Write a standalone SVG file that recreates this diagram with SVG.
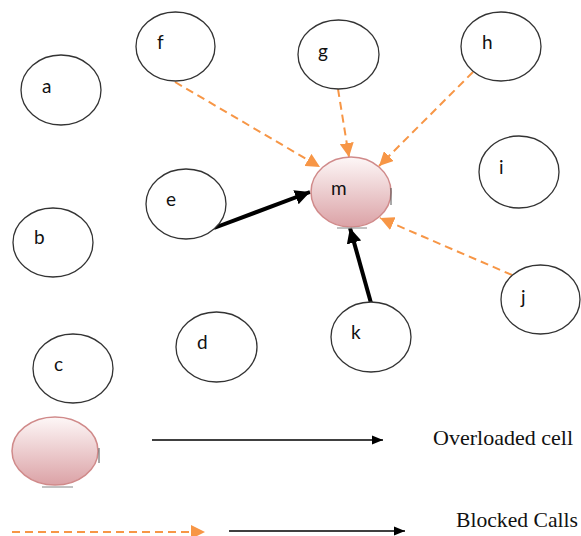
<svg xmlns="http://www.w3.org/2000/svg" width="581" height="536" viewBox="0 0 581 536">
<style>
.cell{fill:#fff;stroke:#333;stroke-width:1.3}
.hot{fill:url(#pink);stroke:#d08a8a;stroke-width:1.5}
.lbl{font-family:Lato,"Open Sans","Liberation Sans",sans-serif;font-size:19px;fill:#111}
.leg{font-family:"Liberation Serif",serif;font-size:22px;fill:#111}
.blk{stroke:#f79646;stroke-width:2;stroke-dasharray:8 5;fill:none}
.load{stroke:#000;stroke-width:4;fill:none}
.thin{stroke:#000;stroke-width:1.4;fill:none}
</style>
<defs>
<linearGradient id="pink" x1="0" y1="0" x2="0" y2="1">
<stop offset="0" stop-color="#fdf7f7"/>
<stop offset="1" stop-color="#dba2a6"/>
</linearGradient>
<marker id="ao" markerUnits="userSpaceOnUse" markerWidth="14" markerHeight="14" viewBox="0 0 12 12" refX="12" refY="6" orient="auto">
<path d="M0,0 L12,6 L0,12 Z" fill="#f79646"/>
</marker>
<marker id="ab" markerUnits="userSpaceOnUse" markerWidth="15" markerHeight="15" viewBox="0 0 12 12" refX="12" refY="6" orient="auto">
<path d="M0,0 L12,6 L0,12 Z" fill="#000"/>
</marker>
<marker id="at" markerUnits="userSpaceOnUse" markerWidth="11" markerHeight="11" viewBox="0 0 12 12" refX="12" refY="6" orient="auto">
<path d="M0,1 L12,6 L0,11 Z" fill="#000"/>
</marker>
</defs>
<g id="connectors">
<line class="blk" x1="175" y1="82" x2="320" y2="167" marker-end="url(#ao)"/>
<line class="blk" x1="338" y1="89" x2="349" y2="157" marker-end="url(#ao)"/>
<line class="blk" x1="473" y1="72" x2="379" y2="166" marker-end="url(#ao)"/>
<line class="blk" x1="512" y1="275" x2="380" y2="218" marker-end="url(#ao)"/>
<line class="load" x1="214" y1="228" x2="310" y2="192" marker-end="url(#ab)"/>
<line class="load" x1="371" y1="303" x2="350" y2="228" marker-end="url(#ab)"/>
</g>
<g id="node-a"><ellipse class="cell" cx="61" cy="90" rx="40" ry="35"/><text class="lbl" x="42" y="93">a</text></g>
<g id="node-f"><ellipse class="cell" cx="175.5" cy="46.5" rx="39.5" ry="34.5"/><text class="lbl" x="157" y="49">f</text></g>
<g id="node-g"><ellipse class="cell" cx="338.5" cy="54.5" rx="40.5" ry="34.5"/><text class="lbl" x="318" y="58">g</text></g>
<g id="node-h"><ellipse class="cell" cx="501" cy="46.5" rx="40" ry="34.5"/><text class="lbl" x="482" y="49">h</text></g>
<g id="node-i"><ellipse class="cell" cx="519" cy="172" rx="40" ry="36"/><text class="lbl" x="499" y="174">i</text></g>
<g id="node-b"><ellipse class="cell" cx="53" cy="242.5" rx="40" ry="34.5"/><text class="lbl" x="34" y="244">b</text></g>
<g id="node-e"><ellipse class="cell" cx="186" cy="204" rx="40" ry="35"/><text class="lbl" x="166" y="206">e</text></g>
<g id="node-m"><ellipse class="hot" cx="351" cy="192" rx="40" ry="35"/><line x1="391" y1="188" x2="391" y2="205" stroke="#555" stroke-width="1"/><line x1="337" y1="228" x2="367" y2="228" stroke="#999" stroke-width="1.2"/><text class="lbl" x="331" y="195">m</text></g>
<g id="node-j"><ellipse class="cell" cx="540.5" cy="299.5" rx="39.5" ry="34.5"/><text class="lbl" x="521" y="304">j</text></g>
<g id="node-k"><ellipse class="cell" cx="371" cy="337" rx="40" ry="35"/><text class="lbl" x="351" y="339">k</text></g>
<g id="node-d"><ellipse class="cell" cx="216.5" cy="347" rx="40.5" ry="35"/><text class="lbl" x="197" y="349">d</text></g>
<g id="node-c"><ellipse class="cell" cx="73" cy="368.5" rx="40" ry="34.5"/><text class="lbl" x="54" y="371">c</text></g>
<g id="legend">
<ellipse class="hot" cx="55" cy="451" rx="43" ry="34"/>
<line x1="99" y1="448" x2="99" y2="463" stroke="#555" stroke-width="1"/>
<line x1="42" y1="487" x2="73" y2="487" stroke="#999" stroke-width="1.2"/>
<line class="thin" x1="152" y1="440" x2="383" y2="440" marker-end="url(#at)"/>
<text class="leg" x="433" y="445" textLength="140" lengthAdjust="spacingAndGlyphs">Overloaded cell</text>
<line class="blk" x1="12" y1="532" x2="205" y2="532" marker-end="url(#ao)"/>
<line class="thin" x1="229" y1="531" x2="405" y2="531" marker-end="url(#at)"/>
<text class="leg" x="456" y="527" font-size="21" textLength="122" lengthAdjust="spacingAndGlyphs">Blocked Calls</text>
</g>
</svg>
